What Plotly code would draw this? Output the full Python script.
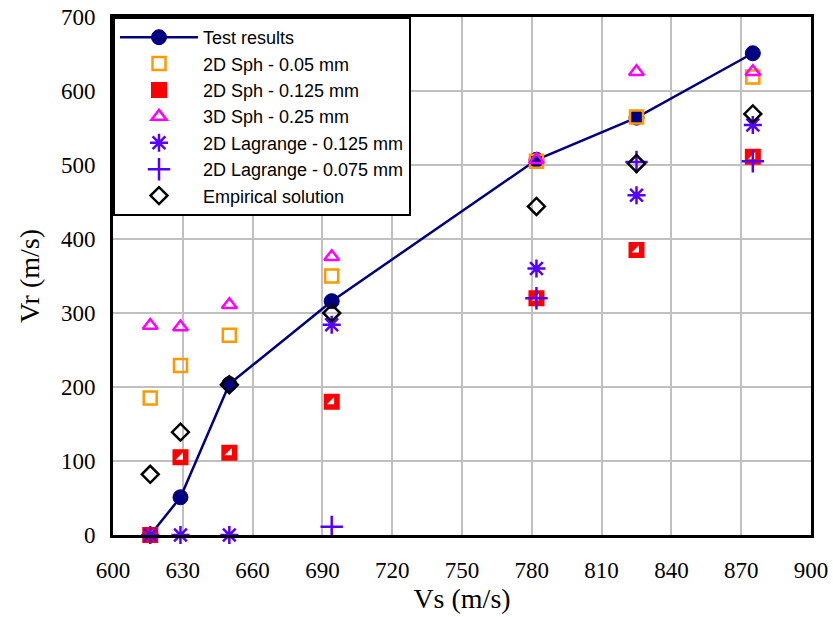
import plotly.graph_objects as go

vs = [616, 629, 650, 694, 782, 825, 875]
test_results = [0, 51, 204, 316, 507, 564, 651]
sph2d_005 = [185, 229, 270, 350, 505, 565, 619]
sph2d_0125 = [0, 105, 111, 180, 320, 385, 511]
sph3d_025 = [283, 281, 311, 376, 507, 626, 626]
lag2d_0125 = [0, 0, 0, 284, 360, 459, 554]
lag2d_0075 = [None, None, None, 11, 320, 504, 505]
empirical = [82, 139, 203, 300, 444, 502, 569]

x_ticks = [600, 630, 660, 690, 720, 750, 780, 810, 840, 870, 900]
y_ticks = [0, 100, 200, 300, 400, 500, 600, 700]

fig = go.Figure()

fig.add_trace(go.Scatter(
    x=vs, y=test_results, name="Test results", mode="lines+markers",
    line=dict(color="#000080", width=2.5),
    marker=dict(symbol="circle", size=15, color="#000080", line=dict(color="#000080", width=1)),
    cliponaxis=False))

fig.add_trace(go.Scatter(
    x=vs, y=sph2d_005, name="2D Sph - 0.05 mm", mode="markers",
    marker=dict(symbol="square-open", size=13, color="#FF9900", line=dict(color="#FF9900", width=2.5)),
    cliponaxis=False))

fig.add_trace(go.Scatter(
    x=vs, y=sph2d_0125, name="2D Sph - 0.125 mm", mode="markers",
    marker=dict(symbol="square", size=14, color="#FF0000", line=dict(color="#FF0000", width=2)),
    cliponaxis=False))

fig.add_trace(go.Scatter(
    x=vs, y=sph2d_0125, name="2D Sph - 0.125 mm", mode="markers", showlegend=False,
    hoverinfo="skip",
    marker=dict(symbol="triangle-se", size=8, color="#FFFFFF", line=dict(width=0)),
    cliponaxis=False))

fig.add_trace(go.Scatter(
    x=vs, y=sph3d_025, name="3D Sph - 0.25 mm", mode="markers",
    marker=dict(symbol="triangle-up-open", size=13, color="#FF00FF", line=dict(color="#FF00FF", width=2.5)),
    cliponaxis=False))

fig.add_trace(go.Scatter(
    x=vs, y=lag2d_0125, name="2D Lagrange - 0.125 mm", mode="markers",
    marker=dict(symbol="asterisk-open", size=15, color="#5500FF", line=dict(color="#5500FF", width=2.5)),
    cliponaxis=False))

fig.add_trace(go.Scatter(
    x=vs, y=lag2d_0075, name="2D Lagrange - 0.075 mm", mode="markers",
    marker=dict(symbol="cross-thin-open", size=16, color="#5500FF", line=dict(color="#5500FF", width=2.5)),
    cliponaxis=False))

fig.add_trace(go.Scatter(
    x=vs, y=empirical, name="Empirical solution", mode="markers",
    marker=dict(symbol="diamond-open", size=13, color="#000000", line=dict(color="#000000", width=2.5)),
    cliponaxis=False))

fig.update_layout(
    width=833, height=617,
    margin=dict(l=113, r=22, t=17, b=82),
    paper_bgcolor="white", plot_bgcolor="white",
    showlegend=True,
    legend=dict(
        x=0, y=1, xanchor="left", yanchor="top",
        bgcolor="white", bordercolor="black", borderwidth=2,
        font=dict(family="Liberation Sans, Arial, sans-serif", size=18, color="black"),
        tracegroupgap=0, itemwidth=78,
    ),
)

fig.update_xaxes(
    range=[600, 900], tickvals=x_ticks, ticktext=[str(v) for v in x_ticks],
    showgrid=True, gridcolor="#C0C0C0", gridwidth=2,
    showline=True, linecolor="black", linewidth=3, mirror=True,
    zeroline=False, ticks="", ticklabelstandoff=12, automargin=False,
    ticklabeloverflow="allow",
    tickfont=dict(family="Liberation Serif, Times New Roman, serif", size=23, color="black"),
    title=dict(text="Vs (m/s)", standoff=2,
               font=dict(family="Liberation Serif, Times New Roman, serif", size=28, color="black")),
)

fig.update_yaxes(
    range=[0, 700], tickvals=y_ticks, ticktext=[str(v) for v in y_ticks],
    showgrid=True, gridcolor="#C0C0C0", gridwidth=2,
    showline=True, linecolor="black", linewidth=3, mirror=True,
    zeroline=False, ticks="", ticklabelstandoff=10, automargin=False,
    ticklabeloverflow="allow",
    tickfont=dict(family="Liberation Serif, Times New Roman, serif", size=23, color="black"),
    title=dict(text="Vr (m/s)", standoff=14,
               font=dict(family="Liberation Serif, Times New Roman, serif", size=28, color="black")),
)

fig.write_html("out.html", config={"displayModeBar": False},
               post_script="document.body.style.margin='0';document.body.style.overflow='hidden';")
